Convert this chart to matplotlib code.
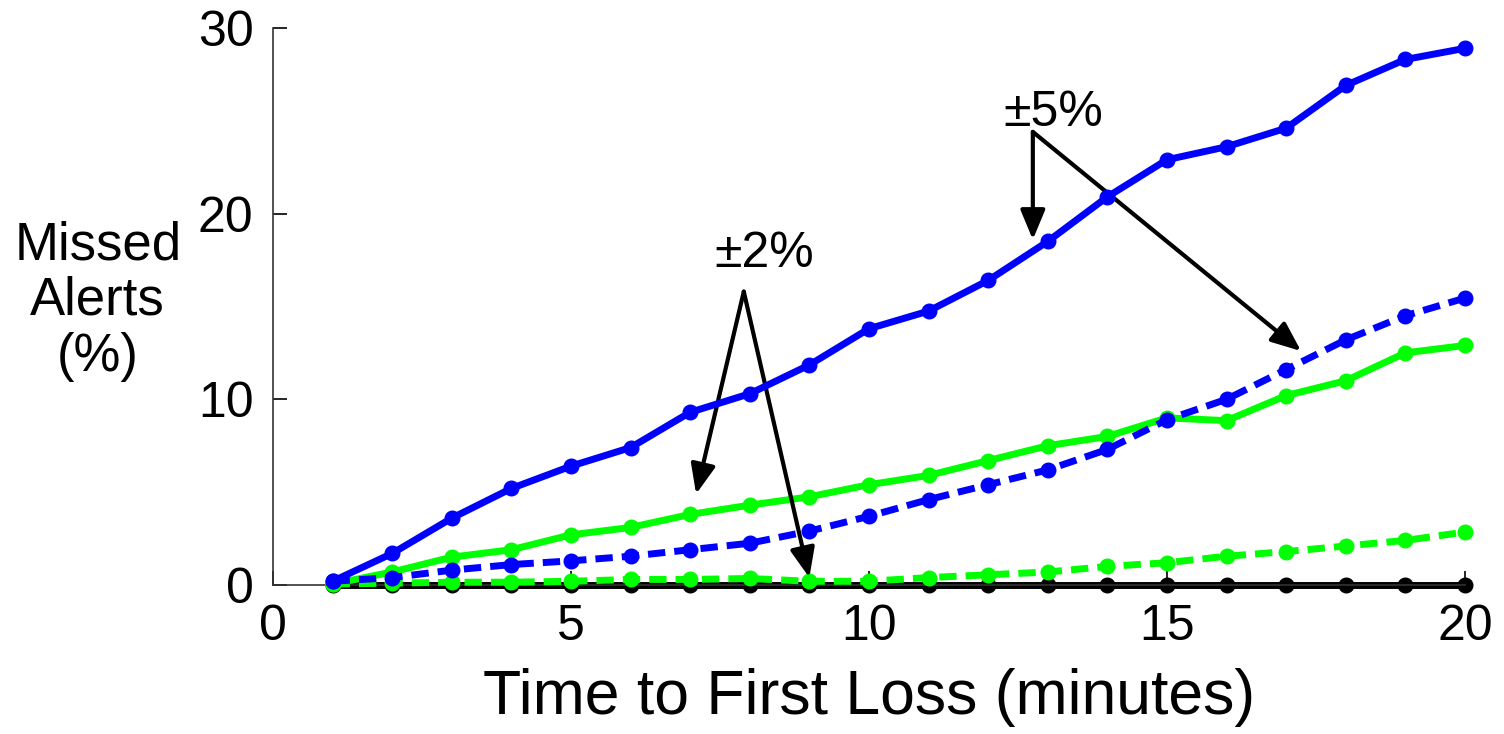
import matplotlib
matplotlib.use("Agg")
import matplotlib.pyplot as plt

x = list(range(1, 21))
blue_solid = [0.2, 1.7, 3.6, 5.2, 6.4, 7.4, 9.3, 10.3, 11.85, 13.8, 14.75, 16.4, 18.5, 20.9, 22.9, 23.6, 24.6, 26.9, 28.3, 28.9]
blue_dashed = [0.2, 0.4, 0.8, 1.1, 1.3, 1.55, 1.9, 2.25, 2.9, 3.7, 4.6, 5.4, 6.2, 7.3, 8.9, 10.0, 11.6, 13.2, 14.5, 15.45]
green_solid = [0.05, 0.7, 1.5, 1.9, 2.7, 3.1, 3.8, 4.3, 4.75, 5.4, 5.9, 6.7, 7.5, 8.0, 9.0, 8.85, 10.2, 11.0, 12.5, 12.9]
green_dashed = [0.05, 0.1, 0.15, 0.15, 0.2, 0.3, 0.3, 0.35, 0.2, 0.2, 0.4, 0.55, 0.7, 1.0, 1.2, 1.55, 1.8, 2.1, 2.4, 2.85]
black_base = [0.0] * 20

xticks = [0, 5, 10, 15, 20]
yticks = [0, 10, 20, 30]

plt.rcParams['font.family'] = ['Liberation Sans', 'DejaVu Sans']

fig = plt.figure(figsize=(15.04, 7.34), dpi=100)
ax = fig.add_axes([0.1815, 0.203, 0.7925, 0.759])

lw = 5
ms = 10.5
dash = (2.5, 1.3)
ax.plot(x, black_base, '-', color='black', lw=lw, marker='o', ms=ms, zorder=2, clip_on=False)
ax.plot(x, green_dashed, '--', color='#00ff00', lw=lw, marker='o', ms=ms, dashes=dash, zorder=3, clip_on=False)
ax.plot(x, green_solid, '-', color='#00ff00', lw=lw, marker='o', ms=ms, zorder=3, clip_on=False)
ax.plot(x, blue_dashed, '--', color='#0000ff', lw=lw, marker='o', ms=ms, dashes=dash, zorder=4, clip_on=False)
ax.plot(x, blue_solid, '-', color='#0000ff', lw=lw, marker='o', ms=ms, zorder=4, clip_on=False)

ax.set_xlim(0, 20)
ax.set_ylim(0, 30)
ax.set_xticks(xticks)
ax.set_yticks(yticks)
ax.tick_params(direction='in', length=10, width=1.2, labelsize=36, pad=14, colors='black')
for s in ['top', 'right']:
    ax.spines[s].set_visible(False)
for s in ['left', 'bottom']:
    ax.spines[s].set_linewidth(1.2)
    ax.spines[s].set_color('#333333')

ax.set_xlabel('Time to First Loss (minutes)', fontsize=45, labelpad=13)
fig.text(0.065, 0.59, 'Missed\nAlerts\n(%)', fontsize=38, ha='center', va='center', linespacing=1.15)

arrow = dict(arrowstyle='-|>,head_length=0.6,head_width=0.25', color='black', lw=3, mutation_scale=30, shrinkA=0, shrinkB=0)
ax.text(8.25, 16.6, '±2%', fontsize=36, ha='center', va='bottom')
ax.annotate('', xy=(7.1, 4.9), xytext=(7.9, 15.8), arrowprops=arrow)
ax.annotate('', xy=(9.0, 0.4), xytext=(7.9, 15.8), arrowprops=arrow)
ax.text(13.1, 24.2, '±5%', fontsize=36, ha='center', va='bottom')
ax.annotate('', xy=(12.75, 18.6), xytext=(12.75, 24.4), arrowprops=arrow)
ax.annotate('', xy=(17.25, 12.6), xytext=(12.75, 24.4), arrowprops=arrow)

fig.savefig('out.png', dpi=100)
